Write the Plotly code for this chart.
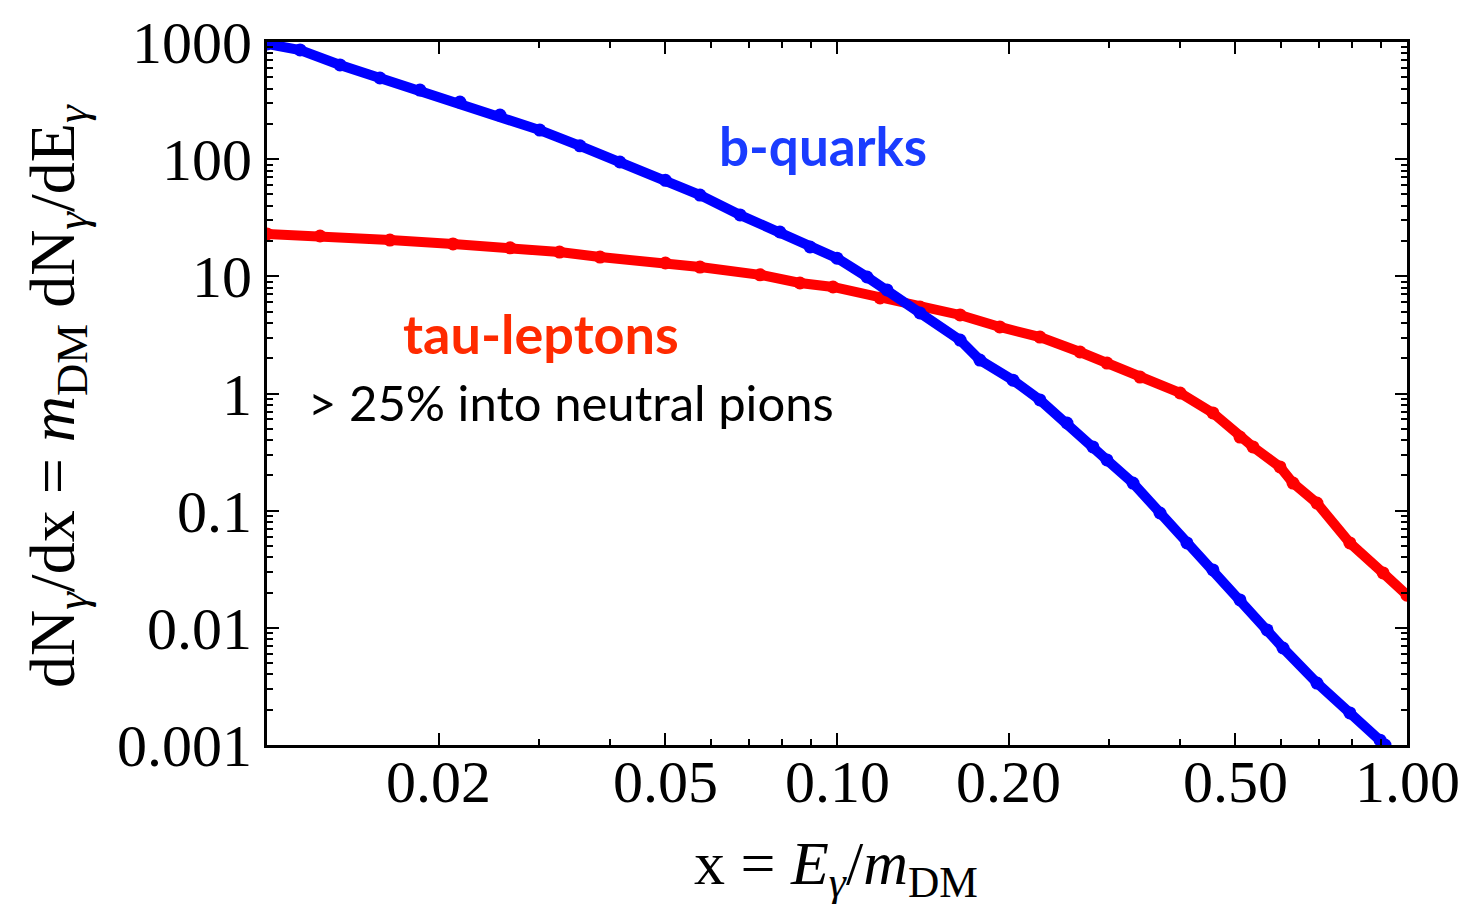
import math
import plotly.graph_objects as go

# b-quarks spectrum (x = E/mDM, dN/dx)
b_x = [0.0100, 0.01143, 0.01343, 0.01578, 0.01855, 0.0218, 0.02563, 0.0301, 0.0354, 0.0416,
       0.0500, 0.0575, 0.0676, 0.0794, 0.0897, 0.100, 0.1129, 0.1224, 0.1398, 0.1644,
       0.1781, 0.2036, 0.2270, 0.2532, 0.2812, 0.2976, 0.3306, 0.3687, 0.4111, 0.4566,
       0.5093, 0.5682, 0.606, 0.695, 0.794, 0.897, 0.915]
b_y = [961, 855, 637, 493, 389, 307, 238, 177, 130, 94.6,
       66, 49.4, 33.4, 23.9, 17.8, 14.3, 9.87, 7.65, 4.87, 2.86,
       1.93, 1.30, 0.881, 0.560, 0.350, 0.271, 0.172, 0.0955, 0.053, 0.0312,
       0.0173, 0.00959, 0.00673, 0.00338, 0.00188, 0.0011, 0.001]

# tau-leptons spectrum
t_x = [0.0100, 0.01239, 0.01643, 0.0212, 0.0267, 0.0326, 0.0384, 0.0500, 0.0575, 0.0733,
       0.0861, 0.0984, 0.119, 0.1398, 0.1644, 0.193, 0.2270, 0.2669, 0.2976, 0.3401,
       0.3999, 0.4566, 0.5093, 0.5368, 0.5987, 0.631, 0.695, 0.794, 0.908, 1.000]
t_y = [23.0, 22.1, 20.4, 18.9, 17.5, 16.1, 14.6, 13.0, 12.0, 10.3,
       8.77, 8.11, 6.53, 5.47, 4.68, 3.70, 3.03, 2.26, 1.82, 1.38,
       1.01, 0.682, 0.425, 0.350, 0.236, 0.172, 0.116, 0.053, 0.0294, 0.019]

x_tickvals = [0.02, 0.05, 0.10, 0.20, 0.50, 1.00]
x_ticktext = ["0.02", "0.05", "0.10", "0.20", "0.50", "1.00"]
x_minor = [0.03, 0.04, 0.06, 0.07, 0.08, 0.09, 0.3, 0.4, 0.6, 0.7, 0.8, 0.9]
y_tickvals = [0.001, 0.01, 0.1, 1, 10, 100, 1000]
y_ticktext = ["0.001", "0.01", "0.1", "1", "10", "100", "1000"]
y_minor = [m * d for d in [0.001, 0.01, 0.1, 1, 10, 100] for m in range(2, 10)]

fig = go.Figure()
fig.add_trace(go.Scatter(x=t_x, y=t_y, mode="lines+markers",
                         line=dict(color="#ff0000", width=10),
                         marker=dict(color="#ff0000", size=13), cliponaxis=True))
fig.add_trace(go.Scatter(x=b_x, y=b_y, mode="lines+markers",
                         line=dict(color="#0000ff", width=10),
                         marker=dict(color="#0000ff", size=13), cliponaxis=True))

serif = "Liberation Serif"
L, R, T, B = 267, 58, 42, 159
W, H = 1465, 904
pw, ph = W - L - R, H - T - B


def px(x):
    return (x - L) / pw


def py(y):
    return 1 - (y - T) / ph


axis_common = dict(type="log", tickmode="array", ticks="inside", ticklen=12, tickwidth=2,
                   tickcolor="black", showgrid=False, zeroline=False, showline=True,
                   linecolor="black", linewidth=3, mirror="allticks", automargin=False)

annotations = [
    dict(text="dN<sub><i>γ</i></sub>/dx = <i>m</i><sub>DM</sub> dN<sub><i>γ</i></sub>/dE<sub><i>γ</i></sub>",
         x=px(57), y=py(396), xref="paper", yref="paper", textangle=-90,
         xanchor="center", yanchor="middle", showarrow=False,
         font=dict(family=serif, size=64, color="black")),
    dict(text="x = <i>E</i><sub><i>γ</i></sub>/<i>m</i><sub>DM</sub>",
         x=px(836), y=py(868), xref="paper", yref="paper",
         xanchor="center", yanchor="middle", showarrow=False,
         font=dict(family=serif, size=62, color="black")),
    dict(text="<b>b-quarks</b>", x=px(823), y=py(145), xref="paper", yref="paper",
         xanchor="center", yanchor="middle",
         showarrow=False, font=dict(family="Lato", size=53, color="#1a3cff")),
    dict(text="<b>tau-leptons</b>", x=px(541), y=py(333), xref="paper", yref="paper",
         xanchor="center", yanchor="middle",
         showarrow=False, font=dict(family="Lato", size=54, color="#ff2a00")),
    dict(text="> 25% into neutral pions", x=px(306), y=py(402), xref="paper", yref="paper",
         xanchor="left", yanchor="middle",
         showarrow=False, font=dict(family="Lato", size=49, color="black")),
]
# x tick labels placed on the x axis scale (log axis -> log10 positions)
for v, t in zip(x_tickvals, x_ticktext):
    annotations.append(dict(text=t, x=math.log10(v), xref="x", y=py(782), yref="paper",
                            xanchor="center", yanchor="middle", showarrow=False,
                            font=dict(family=serif, size=60, color="black")))

fig.update_layout(
    width=W, height=H,
    margin=dict(l=L, r=R, t=T, b=B),
    plot_bgcolor="white", paper_bgcolor="white",
    showlegend=False,
    xaxis=dict(range=[-2, 0], tickvals=x_tickvals, ticktext=x_ticktext, showticklabels=False,
               minor=dict(tickvals=x_minor, ticks="inside", ticklen=6, tickwidth=1.5,
                          tickcolor="black", showgrid=False),
               **axis_common),
    yaxis=dict(range=[-3, 3], tickvals=y_tickvals, ticktext=y_ticktext,
               minor=dict(tickvals=y_minor, ticks="inside", ticklen=6, tickwidth=1.5,
                          tickcolor="black", showgrid=False),
               tickfont=dict(family=serif, size=60, color="black"), **axis_common),
    annotations=annotations,
)

fig.write_html("out.html")
